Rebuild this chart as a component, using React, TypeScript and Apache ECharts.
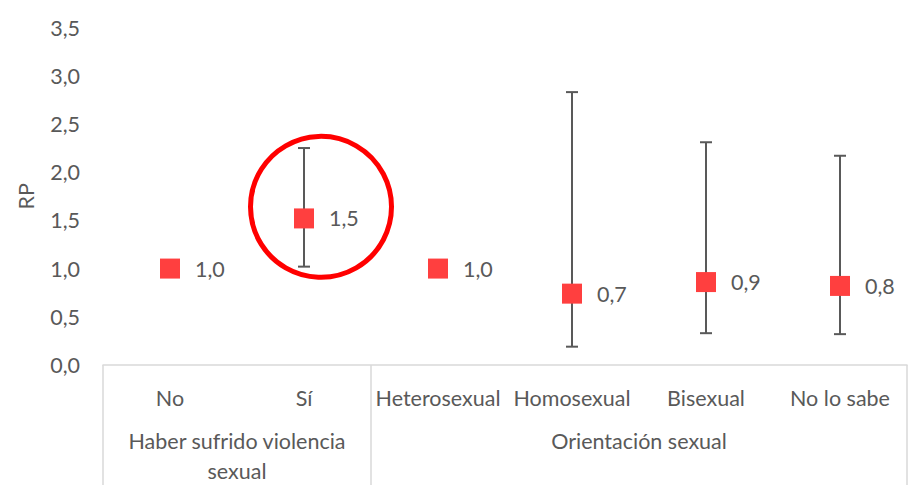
import React, { useEffect, useRef } from "react";
import * as echarts from "echarts";

const categories = ["No", "Sí", "Heterosexual", "Homosexual", "Bisexual", "No lo sabe"];
const groupLabels = ["", "Haber sufrido violencia\nsexual", "", "", "Orientación sexual", "", ""];
const groupDividers = [0, 2, 6];
const rpValues = [1.0, 1.52, 1.0, 0.74, 0.86, 0.82];
const ciLow: (number | null)[] = [null, 1.02, null, 0.19, 0.33, 0.32];
const ciHigh: (number | null)[] = [null, 2.25, null, 2.83, 2.31, 2.17];
const yTicks = { min: 0, max: 3.5, interval: 0.5 };

const FONT = "Lato, 'Open Sans', sans-serif";
const TEXT = "#595959";
const FS = 21.5;

export default function App() {
  const ref = useRef<HTMLDivElement>(null);
  useEffect(() => {
    if (!ref.current) return;
    const chart = echarts.init(ref.current, undefined, { renderer: "svg" });
    const errData = categories
      .map((_, i) => (ciLow[i] != null ? [i, ciLow[i], ciHigh[i]] : null))
      .filter((d) => d) as number[][];
    chart.setOption({
      animation: false,
      textStyle: { fontFamily: FONT },
      grid: { left: 103, right: 5, top: 27.5, bottom: 117.5, containLabel: false },
      xAxis: [
        {
          type: "category",
          data: categories,
          position: "bottom",
          axisLine: { show: true, lineStyle: { color: "#D9D9D9", width: 1.5 } },
          axisTick: { show: false },
          axisLabel: { color: TEXT, fontSize: FS, fontFamily: FONT, margin: 20, lineHeight: 26, interval: 0 },
          splitLine: { show: false },
        },
        {
          type: "category",
          data: groupLabels,
          position: "bottom",
          boundaryGap: false,
          axisLine: { show: false },
          axisTick: {
            show: true,
            length: 120,
            interval: (index: number) => groupDividers.includes(index),
            lineStyle: { color: "#D9D9D9", width: 1.5 },
          },
          axisLabel: {
            color: TEXT,
            fontSize: FS,
            fontFamily: FONT,
            margin: 61,
            lineHeight: 30,
            interval: 0,
            verticalAlign: "top",
          },
          splitLine: { show: false },
        },
      ],
      yAxis: {
        type: "value",
        min: yTicks.min,
        max: yTicks.max,
        interval: yTicks.interval,
        name: "RP",
        nameLocation: "middle",
        nameGap: 66,
        nameRotate: 90,
        nameTextStyle: { color: TEXT, fontSize: FS, fontFamily: FONT },
        axisLine: { show: false },
        axisTick: { show: false },
        splitLine: { show: false },
        axisLabel: {
          color: TEXT,
          fontSize: FS,
          fontFamily: FONT,
          margin: 23,
          formatter: (v: number) => v.toFixed(1).replace(".", ","),
        },
      },
      series: [
        {
          type: "custom",
          xAxisIndex: 0,
          yAxisIndex: 0,
          data: errData,
          z: 1,
          renderItem: (params: any, api: any) => {
            const x = api.value(0);
            const lo = api.coord([x, api.value(1)]);
            const hi = api.coord([x, api.value(2)]);
            const cap = 6;
            const style = { stroke: "#595959", lineWidth: 2 };
            return {
              type: "group",
              children: [
                { type: "line", shape: { x1: lo[0], y1: lo[1], x2: hi[0], y2: hi[1] }, style },
                { type: "line", shape: { x1: lo[0] - cap, y1: lo[1], x2: lo[0] + cap, y2: lo[1] }, style },
                { type: "line", shape: { x1: hi[0] - cap, y1: hi[1], x2: hi[0] + cap, y2: hi[1] }, style },
              ],
            };
          },
        },
        {
          type: "scatter",
          xAxisIndex: 0,
          yAxisIndex: 0,
          data: rpValues,
          symbol: "rect",
          symbolSize: 20,
          z: 3,
          itemStyle: { color: "#FF3F3F", opacity: 1 },
          label: {
            show: true,
            position: "right",
            distance: 15,
            color: TEXT,
            fontSize: FS,
            fontFamily: FONT,
            formatter: (p: any) => (p.value as number).toFixed(1).replace(".", ","),
          },
        },
      ],
    });
    const c = chart.convertToPixel({ xAxisIndex: 0, yAxisIndex: 0 }, [1, 1.64]) as number[];
    chart.setOption({
      graphic: [
        {
          type: "circle",
          shape: { cx: c[0] + 17, cy: c[1], r: 70.5 },
          style: { fill: "none", stroke: "#FF0000", lineWidth: 5 },
          z: 10,
        },
      ],
    });
    return () => chart.dispose();
  }, []);
  return (
    <div
      ref={ref}
      style={{ position: "fixed", left: 0, top: 0, width: 912, height: 486, background: "#fff" }}
    />
  );
}
